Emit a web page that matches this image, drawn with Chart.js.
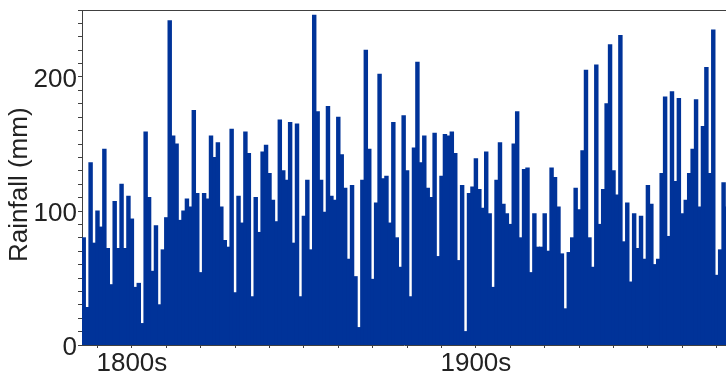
<!DOCTYPE html>
<html>
<head>
<meta charset="utf-8">
<script src="https://cdn.jsdelivr.net/npm/chart.js@4"></script>
<style>
  body { margin: 0; background: #fff; overflow: hidden; }
  #wrap { width: 726px; height: 374px; }
</style>
</head>
<body>
<div id="wrap"><canvas id="rainChart"></canvas></div>
<script>
// yearly rainfall, one bar per year starting at firstYear
const firstYear = 1786;
const rainfall = [
  80, 28, 136, 76, 100, 88, 146, 72, 45, 107, 72, 120, 72, 111, 94, 43, 46,
  16, 159, 110, 55, 89, 30, 71, 95, 242, 156, 150, 93, 100, 109, 103, 175, 113, 54, 113,
  109, 156, 140, 151, 103, 78, 73, 161, 39, 111, 91, 159, 143,
  36, 110, 84, 144, 149, 128, 108, 92, 168, 130, 123, 166, 76, 165, 36, 96, 123, 71,
  246, 174, 123, 99, 178, 111, 108, 170, 142, 117, 64, 119, 51, 13,
  123, 220, 146, 49, 106, 202, 124, 126, 91, 166, 80, 58, 171, 130, 36, 147, 211, 136,
  156, 117, 110, 158, 66, 126, 157, 156, 159, 143, 63, 119, 10, 113,
  118, 139, 116, 102, 144, 98, 43, 123, 151, 105, 98, 90, 150, 174, 80, 131, 132, 54,
  98, 73, 73, 98, 70, 132, 125, 103, 68, 27, 69, 80, 117, 101,
  145, 205, 80, 58, 209, 90, 116, 180, 224, 130, 112, 231, 77, 106, 47, 98, 72, 96,
  64, 119, 105, 60, 64, 128, 185, 81, 189, 122, 184, 98, 108, 128, 146, 183, 103, 163,
  207, 128, 235, 52, 71, 121, 103
];
const years = rainfall.map((v, i) => firstYear + i);
const centuryTicks = [1800, 1900];

const axisColor = '#404040';
const font = { family: "'Liberation Sans', Arial, sans-serif", size: 26 };

// thin frame line along the top of the plot
const frameTop = {
  id: 'frameTop',
  afterDraw(chart) {
    const { ctx, chartArea } = chart;
    ctx.save();
    ctx.strokeStyle = axisColor;
    ctx.lineWidth = 1;
    ctx.beginPath();
    ctx.moveTo(chartArea.left, chartArea.top + 0.5);
    ctx.lineTo(chartArea.right, chartArea.top + 0.5);
    ctx.stroke();
    ctx.restore();
  }
};

const ctx = document.getElementById('rainChart').getContext('2d');
const rainChart = new Chart(ctx, {
  type: 'bar',
  data: {
    datasets: [{
      data: years.map((y, i) => ({ x: y, y: rainfall[i] })),
      backgroundColor: '#003399',
      borderWidth: 0,
      inflateAmount: 0.5,
      barPercentage: 1,
      categoryPercentage: 1
    }]
  },
  options: {
    responsive: true,
    maintainAspectRatio: false,
    animation: false,
    layout: { padding: { top: 10, right: 0, left: 0, bottom: 0 } },
    plugins: { legend: { display: false }, tooltip: { enabled: false } },
    scales: {
      x: {
        type: 'linear',
        offset: false,
        min: 1785.5,
        max: 1972.7,
        afterFit: s => { s.height = 29; s.paddingLeft = 0; s.paddingRight = 0; },
        grid: { drawOnChartArea: false, drawTicks: true, tickLength: 3, color: axisColor, offset: false },
        border: { display: true, color: axisColor, width: 1 },
        ticks: {
          stepSize: 10,
          includeBounds: false,
          autoSkip: false,
          maxRotation: 0,
          padding: 0,
          color: '#222',
          font: font,
          callback: v => centuryTicks.includes(v) ? v + 's' : ''
        }
      },
      y: {
        min: 0,
        max: 250,
        afterFit: s => { s.width = 82; s.paddingTop = 0; s.paddingBottom = 0; },
        grid: { drawOnChartArea: false, drawTicks: true, tickLength: 4, color: axisColor },
        border: { display: true, color: axisColor, width: 1 },
        ticks: {
          stepSize: 10,
          autoSkip: false,
          padding: 1,
          labelOffset: 3,
          color: '#222',
          font: font,
          callback: v => v % 100 === 0 ? v : ''
        },
        title: {
          display: true,
          text: 'Rainfall (mm)  ',
          color: '#222',
          font: font,
          padding: { top: 4, bottom: 4 }
        }
      }
    }
  },
  plugins: [frameTop]
});
</script>
</body>
</html>
